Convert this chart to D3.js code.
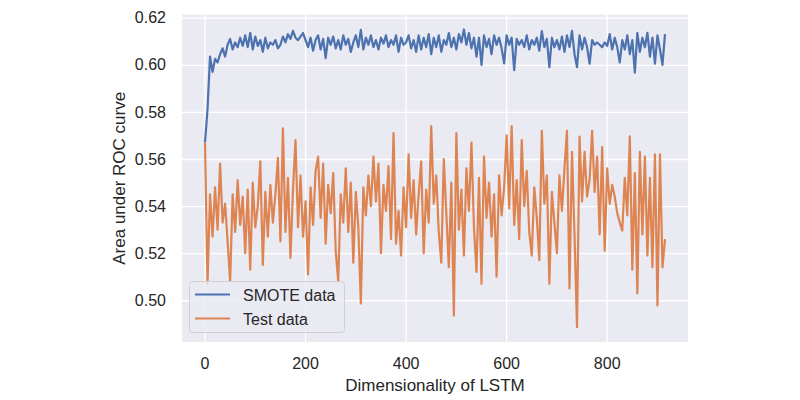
<!DOCTYPE html>
<html><head><meta charset="utf-8">
<script src="https://cdn.jsdelivr.net/npm/d3@7"></script>
<style>
body{margin:0;background:#fff;}
text{font-family:"Liberation Sans",Arial,sans-serif;fill:#262626;}
</style></head>
<body><svg id="chart" width="800" height="400"></svg>
<script>
const dimStart = 1, dimStep = 5;
const xTicks = [0, 200, 400, 600, 800];
const yTicks = [0.50, 0.52, 0.54, 0.56, 0.58, 0.60, 0.62];
const seriesNames = ["SMOTE data", "Test data"];
const smote = [
0.567,0.581,0.6035,0.597,0.6025,0.601,0.6045,0.607,0.6035,0.6085,
0.611,0.6065,0.6095,0.6075,0.6115,0.608,0.6125,0.6075,0.6136,0.6065,
0.612,0.608,0.6105,0.6055,0.6115,0.607,0.6095,0.6085,0.6105,0.607,
0.6085,0.612,0.6095,0.613,0.611,0.6144,0.6115,0.6105,0.612,0.6135,
0.6105,0.6075,0.6115,0.606,0.6105,0.6125,0.6065,0.611,0.6028,0.6115,
0.6085,0.612,0.607,0.6105,0.6065,0.6125,0.6085,0.611,0.6055,0.6095,
0.6125,0.6075,0.6148,0.6065,0.6115,0.6085,0.6125,0.6075,0.6105,0.6065,
0.6115,0.609,0.6125,0.6075,0.6105,0.6085,0.6125,0.6055,0.6115,0.6085,
0.6095,0.6125,0.607,0.6105,0.6055,0.6125,0.6065,0.6115,0.6075,0.613,
0.6045,0.6115,0.6075,0.6125,0.6055,0.6105,0.6085,0.6135,0.6075,0.6115,
0.6065,0.613,0.6095,0.615,0.6085,0.6135,0.607,0.6115,0.6035,0.6115,
0.600,0.6125,0.6075,0.611,0.6045,0.6125,0.6085,0.6115,0.607,0.6006,
0.6125,0.6085,0.6115,0.5977,0.611,0.6085,0.6105,0.6075,0.6125,0.6065,
0.6105,0.6085,0.6115,0.606,0.6143,0.6075,0.611,0.599,0.6115,0.6075,
0.6105,0.6065,0.612,0.6055,0.6125,0.6075,0.6144,0.6045,0.599,0.6125,
0.6065,0.6115,0.6075,0.6005,0.6105,0.6085,0.6095,0.6085,0.6075,0.6095,
0.608,0.613,0.6065,0.6115,0.6075,0.601,0.6105,0.6065,0.6125,0.6045,
0.6105,0.5967,0.6136,0.6055,0.6115,0.6075,0.6136,0.6035,0.6115,0.6005,
0.6125,0.6065,0.600,0.613
];
const test = [
0.567,0.507,0.545,0.527,0.548,0.530,0.558,0.533,0.541,0.525,
0.508,0.545,0.529,0.551,0.532,0.544,0.520,0.547,0.513,0.550,
0.531,0.540,0.559,0.515,0.546,0.527,0.549,0.533,0.545,0.5605,
0.525,0.573,0.529,0.552,0.518,0.547,0.568,0.531,0.553,0.527,
0.542,0.511,0.548,0.532,0.555,0.561,0.535,0.558,0.524,0.549,
0.537,0.554,0.521,0.508,0.545,0.533,0.556,0.529,0.550,0.516,
0.546,0.531,0.4986,0.548,0.536,0.553,0.540,0.561,0.542,0.558,
0.520,0.549,0.538,0.557,0.526,0.571,0.524,0.538,0.519,0.548,
0.531,0.562,0.535,0.551,0.528,0.545,0.559,0.520,0.547,0.533,
0.574,0.541,0.553,0.529,0.516,0.560,0.537,0.514,0.550,0.4935,
0.571,0.530,0.547,0.519,0.556,0.538,0.567,0.531,0.512,0.552,
0.507,0.561,0.535,0.550,0.527,0.545,0.510,0.553,0.536,0.548,
0.570,0.539,0.574,0.532,0.551,0.526,0.568,0.540,0.555,0.529,
0.519,0.548,0.535,0.517,0.572,0.541,0.553,0.507,0.546,0.533,
0.520,0.553,0.538,0.556,0.572,0.505,0.563,0.528,0.4886,0.5695,
0.542,0.563,0.544,0.551,0.572,0.546,0.561,0.528,0.565,0.521,
0.556,0.541,0.549,0.544,0.537,0.533,0.5296,0.552,0.536,0.5696,
0.513,0.554,0.5029,0.563,0.528,0.561,0.519,0.552,0.514,0.562,
0.4978,0.562,0.514,0.526
];
const colors = ["#4C72B0", "#DD8452"];

const svg = d3.select("#chart");
const L = 182, R = 688, T = 14.6, B = 342;
const dims = smote.map((_, i) => dimStart + i * dimStep);
const xMin = d3.min(dims), xMax = d3.max(dims);
const xPad = (xMax - xMin) * 0.05;
const x = d3.scaleLinear().domain([xMin - xPad, xMax + xPad]).range([L, R]);
const all = smote.concat(test);
const yMin = d3.min(all), yMax = d3.max(all);
const yPad = (yMax - yMin) * 0.05;
const y = d3.scaleLinear().domain([yMin - yPad, yMax + yPad]).range([B, T]);

svg.append("rect").attr("x", L).attr("y", T).attr("width", R - L).attr("height", B - T).attr("fill", "#EAEAF2");

const gx = svg.append("g").attr("transform", `translate(0,${B})`)
  .call(d3.axisBottom(x).tickValues(xTicks).tickSize(-(B - T)).tickPadding(16).tickFormat(d3.format("d")));
const gy = svg.append("g").attr("transform", `translate(${L},0)`)
  .call(d3.axisLeft(y).tickValues(yTicks).tickSize(-(R - L)).tickPadding(16).tickFormat(d3.format(".2f")));
[gx, gy].forEach(g => {
  g.select(".domain").remove();
  g.selectAll(".tick line").attr("stroke", "#fff").attr("stroke-width", 1.3);
  g.selectAll(".tick text").attr("font-size", 16).style("font-family", '"Liberation Sans",Arial,sans-serif').attr("fill", "#262626");
});

const series = [smote, test];
const line = d3.line().x((d, i) => x(dims[i])).y(d => y(d));
series.forEach((s, k) => {
  svg.append("path").datum(s).attr("d", line).attr("fill", "none")
    .attr("stroke", colors[k]).attr("stroke-width", 2.2).attr("stroke-linejoin", "round");
});

svg.append("text").attr("x", (L + R) / 2).attr("y", 391).attr("text-anchor", "middle")
  .attr("font-size", 17).text("Dimensionality of LSTM");
svg.append("text").attr("transform", `translate(125,${(T + B) / 2}) rotate(-90)`).attr("text-anchor", "middle")
  .attr("font-size", 17).text("Area under ROC curve");

const lg = svg.append("g");
lg.append("rect").attr("x", 189.5).attr("y", 281.5).attr("width", 155).attr("height", 51).attr("rx", 3)
  .attr("fill", "#EAEAF2").attr("fill-opacity", 0.8).attr("stroke", "#cfcfd4").attr("stroke-width", 1);
seriesNames.forEach((n, k) => {
  const yy = 294.5 + k * 24;
  lg.append("line").attr("x1", 195).attr("x2", 230).attr("y1", yy).attr("y2", yy)
    .attr("stroke", colors[k]).attr("stroke-width", 2.2);
  lg.append("text").attr("x", 243).attr("y", yy + 6).attr("font-size", 16).text(n);
});
</script></body></html>
